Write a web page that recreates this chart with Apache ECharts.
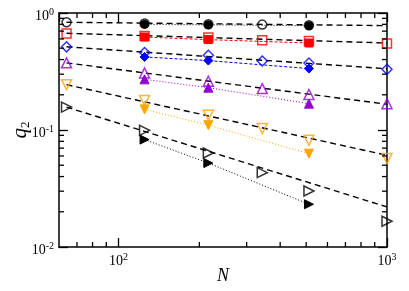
<!DOCTYPE html>
<html><head><meta charset="utf-8">
<script src="https://cdn.jsdelivr.net/npm/echarts@6/dist/echarts.min.js"></script>
<style>html,body{margin:0;padding:0;background:#fff}#c{width:409px;height:291px}</style>
</head><body><div id="c"></div>
<script>
// ---- data ----
const N_open = [64, 125, 216, 343, 512, 1000];
const N_filled = [125, 216, 512];
const N_fit = [64, 1000];

const circleOpen = [0.833, 0.812, 0.801, 0.796, 0.785, null];
const circleFilled = [0.800, 0.792, 0.778];
const circleFit = [0.833, 0.780];

const squareOpen = [0.667, 0.636, 0.616, 0.584, 0.577, 0.548];
const squareFilled = [0.623, 0.592, 0.554];
const squareFit = [0.671, 0.554];

const diamondOpen = [0.514, 0.459, 0.435, 0.389, 0.374, 0.330];
const diamondFilled = [0.421, 0.392, 0.335];
const diamondFit = [0.514, 0.334];

const triUpOpen = [0.375, 0.307, 0.261, 0.226, 0.201, 0.168];
const triUpFilled = [0.271, 0.230, 0.168];
const triUpFit = [0.375, 0.166];

const triDownOpen = [0.244, 0.179, 0.134, 0.1028, 0.0817, 0.057];
const triDownFilled = [0.150, 0.110, 0.0628];
const triDownFit = [0.244, 0.0608];

const triRightOpen = [0.157, 0.0994, 0.0636, 0.0432, 0.0301, 0.0166];
const triRightFilled = [0.0828, 0.0522, 0.0232];
const triRightFit = [0.157, 0.022];

const xMinorTicks = [70, 80, 90, 200, 300, 400, 500, 600, 700, 800, 900];
const yMinorTicks = [0.02, 0.03, 0.04, 0.05, 0.06, 0.07, 0.08, 0.09, 0.2, 0.3, 0.4, 0.5, 0.6, 0.7, 0.8, 0.9];
const xRange = [60, 1000];
const yRange = [0.01, 1];

// ---- build ----
const FONT = '"Liberation Serif","DejaVu Serif",serif';
const pairs = (xs, ys) => xs.map((x, i) => [x, ys[i]]).filter(p => p[1] != null);
const SYM = {
  circle: 'circle',
  square: 'rect',
  diamond: 'diamond',
  up: 'path://M5,0 L10,9 L0,9 Z',
  down: 'path://M0,0 L10,0 L5,9 Z',
  right: 'path://M0,0 L9,5 L0,10 Z'
};
const families = [
  {sym: SYM.circle, color: '#000000', open: circleOpen, filled: circleFilled, fit: circleFit, dash: [1, 2], size: 9},
  {sym: SYM.square, color: '#ff0000', open: squareOpen, filled: squareFilled, fit: squareFit, dash: [3, 2], size: 9},
  {sym: SYM.diamond, color: '#0000ff', open: diamondOpen, filled: diamondFilled, fit: diamondFit, dash: [3, 2], size: 10},
  {sym: SYM.up, color: '#9400d3', open: triUpOpen, filled: triUpFilled, fit: triUpFit, dash: [1, 2], size: 10},
  {sym: SYM.down, color: '#ffa500', open: triDownOpen, filled: triDownFilled, fit: triDownFit, dash: [1, 2], size: 10},
  {sym: SYM.right, color: '#000000', open: triRightOpen, filled: triRightFilled, fit: triRightFit, dash: [1, 2], size: 10}
];

const series = [];
families.forEach(f => {
  series.push({
    type: 'line', data: pairs(N_fit, f.fit), symbol: 'none', silent: true, z: 2,
    lineStyle: {color: '#000', width: 1.4, type: [6, 4]}
  });
  series.push({
    type: 'line', data: pairs(N_filled, f.filled), symbol: f.sym, symbolSize: f.size - 1, z: 3,
    lineStyle: {color: f.color, width: 1, type: f.dash},
    itemStyle: {color: f.color, borderColor: f.color, borderWidth: 1}
  });
  series.push({
    type: 'scatter', data: pairs(N_open, f.open), symbol: f.sym, symbolSize: f.size, z: 4,
    itemStyle: {color: 'rgba(255,255,255,0)', borderColor: f.color, borderWidth: 1.5}
  });
});

series.push({
  type: 'custom', silent: true, clip: false, z: 10,
  data: xMinorTicks.map(v => [v, yRange[0]]),
  renderItem: (params, api) => {
    const v = api.value(0);
    const b = api.coord([v, yRange[0]]);
    const t = api.coord([v, yRange[1]]);
    return {type: 'group', children: [
      {type: 'line', shape: {x1: b[0], y1: b[1], x2: b[0], y2: b[1] - 5}, style: {stroke: '#000', lineWidth: 1.3}},
      {type: 'line', shape: {x1: t[0], y1: t[1], x2: t[0], y2: t[1] + 5}, style: {stroke: '#000', lineWidth: 1.3}}
    ]};
  }
});
series.push({
  type: 'custom', silent: true, clip: false, z: 10,
  data: yMinorTicks.map(v => [xRange[0], v]),
  renderItem: (params, api) => {
    const v = api.value(1);
    const l = api.coord([xRange[0], v]);
    const r = api.coord([xRange[1], v]);
    return {type: 'group', children: [
      {type: 'line', shape: {x1: l[0], y1: l[1], x2: l[0] + 5, y2: l[1]}, style: {stroke: '#000', lineWidth: 1.3}},
      {type: 'line', shape: {x1: r[0], y1: r[1], x2: r[0] - 5, y2: r[1]}, style: {stroke: '#000', lineWidth: 1.3}}
    ]};
  }
});

const powLabel = v => {
  const k = Math.log10(v);
  const r = Math.round(k);
  if (Math.abs(k - r) > 1e-6) return '';
  return '{b|10}{s|' + r + '}';
};
const rich = {
  b: {fontSize: 14, fontFamily: FONT, color: '#000', lineHeight: 18},
  s: {fontSize: 10, fontFamily: FONT, color: '#000', lineHeight: 10, verticalAlign: 'top'}
};
const axisCommon = {
  type: 'log', logBase: 10, splitLine: {show: false},
  axisLine: {show: true, onZero: false, lineStyle: {color: '#000', width: 1.5}},
  axisTick: {show: true, inside: true, length: 9, lineStyle: {color: '#000', width: 1.3}},
  minorTick: {show: false}
};

const option = {
  animation: false,
  backgroundColor: '#fff',
  grid: {left: 59, top: 13, right: 22, bottom: 44, containLabel: false, outerBoundsMode: 'none'},
  xAxis: [
    Object.assign({}, axisCommon, {
      position: 'bottom', min: xRange[0], max: xRange[1],
      name: 'N', nameLocation: 'middle', nameGap: 20, nameMoveOverlap: false,
      nameTextStyle: {fontFamily: FONT, fontStyle: 'italic', fontSize: 18, color: '#000'},
      axisLabel: {formatter: powLabel, rich: rich, margin: 5, showMinLabel: false}
    }),
    Object.assign({}, axisCommon, {position: 'top', min: xRange[0], max: xRange[1], axisLabel: {show: false}})
  ],
  yAxis: [
    Object.assign({}, axisCommon, {
      position: 'left', min: yRange[0], max: yRange[1],
      name: '{q|q}{sub|2}', nameLocation: 'middle', nameGap: 27, nameRotate: 90, nameMoveOverlap: false,
      nameTextStyle: {rich: {
        q: {fontFamily: FONT, fontStyle: 'italic', fontSize: 21, color: '#000', lineHeight: 24},
        sub: {fontFamily: FONT, fontSize: 13, color: '#000', lineHeight: 14, verticalAlign: 'bottom'}
      }},
      axisLabel: {formatter: powLabel, rich: rich, margin: 5, padding: [6, 0, 0, 0]}
    }),
    Object.assign({}, axisCommon, {position: 'right', min: yRange[0], max: yRange[1], axisLabel: {show: false}})
  ],
  series: series
};
const chart = echarts.init(document.getElementById('c'), null, {renderer: 'canvas'});
chart.setOption(option);
</script></body></html>
